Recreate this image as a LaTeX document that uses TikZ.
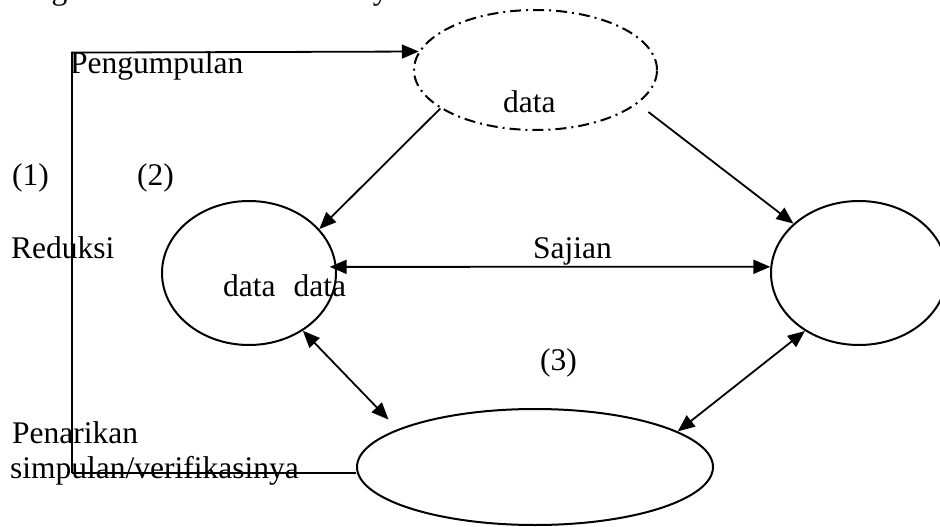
\documentclass[tikz,border=0pt]{standalone}
\usepackage{fontspec}
\setmainfont{Liberation Serif}
\usetikzlibrary{arrows.meta,shapes.geometric}
\begin{document}
\begin{tikzpicture}[x=1pt,y=-1pt,
  lbl/.style={anchor=base west,inner sep=0pt,font=\fontsize{31.5}{37}\selectfont},
  oval/.style={ellipse,draw,line width=2pt,inner sep=0pt},
  conn/.style={line width=1.8pt},
  tip/.style={-{Triangle[length=17pt,width=14pt]}},
  dtip/.style={{Triangle[length=17pt,width=14pt]}-{Triangle[length=17pt,width=14pt]}}]
\useasboundingbox[fill=white] (0,0) rectangle (940,527);
% ellipses
\node[oval,minimum width=243pt,minimum height=120pt,
  dash pattern=on 11pt off 5pt on 2pt off 5pt] (top) at (535.5,70) {};
\node[oval,minimum width=174pt,minimum height=144pt] (left) at (249,273) {};
\node[oval,minimum width=176pt,minimum height=144pt] (right) at (859,273) {};
\node[oval,minimum width=356pt,minimum height=116pt] (bot) at (535,467) {};
% texts
\node[lbl] (cap) at (27,0) {digambarkan dalam skema yaitu:};
\node[lbl] (t1) at (70,74) {Pengumpulan};
\node[lbl] (t2) at (503,112) {data};
\node[lbl] (n1) at (12,185) {(1)};
\node[lbl] (n2) at (137,185) {(2)};
\node[lbl] (t3) at (11,258) {Reduksi};
\node[lbl] (t4) at (533,258) {Sajian};
\node[lbl] (t5) at (223,296) {data\hspace{18pt}data};
\node[lbl] (n3) at (540,370) {(3)};
\node[lbl] (t6) at (12,443) {Penarikan};
\node[lbl] (t7) at (10,478) {simpulan/verifikasinya};
% connectors
\coordinate (c1) at (72,473);
\coordinate (c2) at (72,52.6);
\draw[line width=1.3pt] ([yshift=-6pt]bot.west) -- (c1);
\draw[conn,tip] (c1) -- (c2) -- (top.171.5);
\draw[conn,tip] (top.202) -- (left.32);
\draw[conn,tip] ([shift={(14,6)}]top.-20.6) -- (right.143);
\draw[conn,dtip] ([xshift=-7pt]left.4) -- (right.176);
\draw[conn,dtip] (left.-47) -- ([shift={(-19,-6)}]bot.162);
\draw[conn,dtip] (right.227.6) -- (bot.14.3);
\end{tikzpicture}
\end{document}
